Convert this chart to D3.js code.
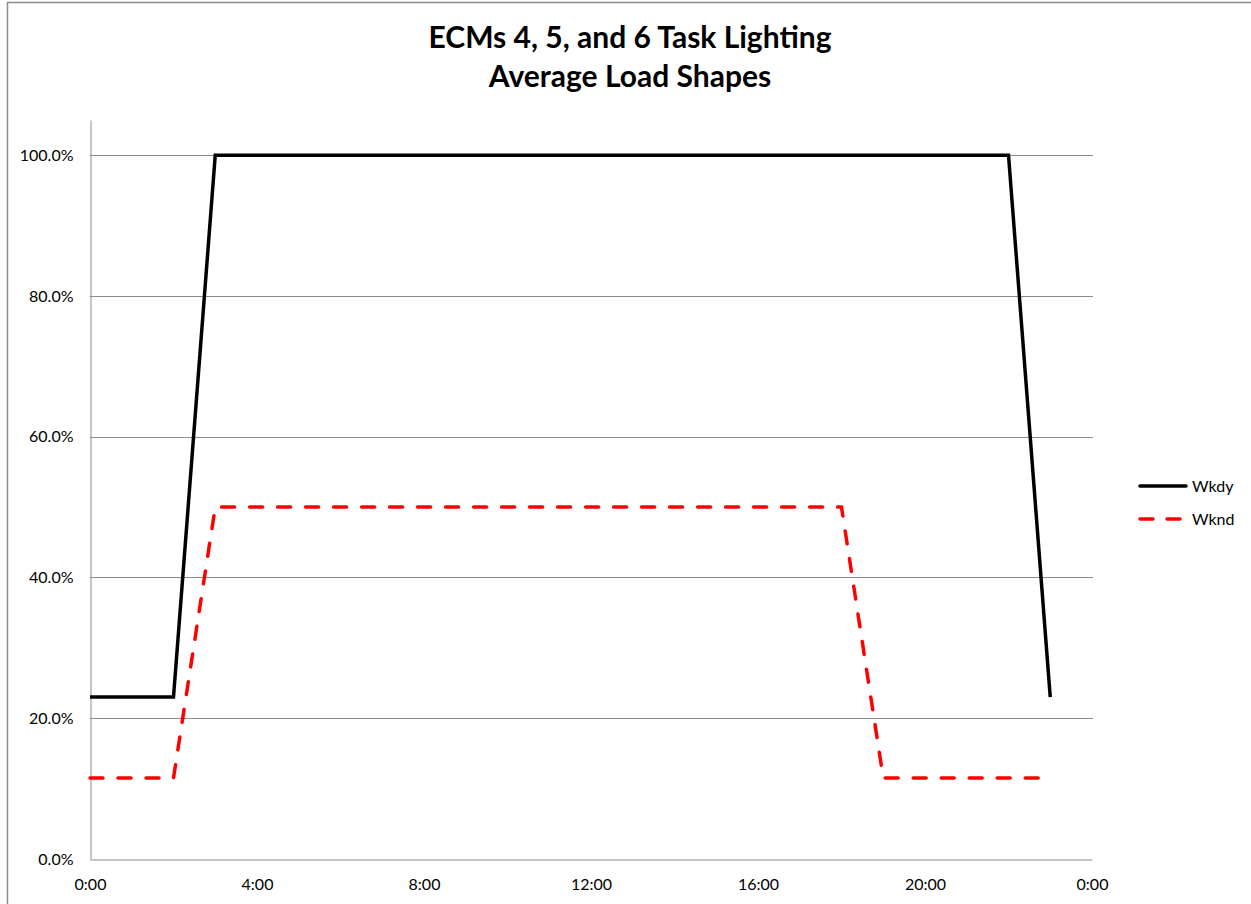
<!DOCTYPE html>
<html>
<head>
<meta charset="utf-8">
<script src="https://cdn.jsdelivr.net/npm/d3@7"></script>
<style>
  html, body { margin: 0; padding: 0; background: #fff; }
  svg { display: block; font-family: Lato, "Open Sans", sans-serif; }
</style>
</head>
<body>
<svg id="chart" width="1251" height="904"></svg>
<script>
// Hourly average load shapes (fraction of peak)
const hours = [0,1,2,3,4,5,6,7,8,9,10,11,12,13,14,15,16,17,18,19,20,21,22,23];
const wkdy = [0.23,0.23,0.23,1,1,1,1,1,1,1,1,1,1,1,1,1,1,1,1,1,1,1,1,0.23];
const wknd = [0.115,0.115,0.115,0.5,0.5,0.5,0.5,0.5,0.5,0.5,0.5,0.5,0.5,0.5,0.5,0.5,0.5,0.5,0.5,0.115,0.115,0.115,0.115,0.115];
const yTicks = [0, 0.2, 0.4, 0.6, 0.8, 1.0];
const xTicks = [0, 4, 8, 12, 16, 20, 24];
const seriesNames = ["Wkdy", "Wknd"];
const titleLines = ["ECMs 4, 5, and 6 Task Lighting", "Average Load Shapes"];

const svg = d3.select("#chart");

// chart frame
svg.append("rect")
  .attr("x", 7.5).attr("y", 2.5)
  .attr("width", 1300).attr("height", 1000)
  .attr("fill", "none").attr("stroke", "#8c8c8c").attr("stroke-width", 1.5);

const plot = { left: 90, right: 1092, top: 120, bottom: 859 };
const x = d3.scaleLinear().domain([0, 24]).range([plot.left, plot.right]);
const y = d3.scaleLinear().domain([0, 1.05]).range([plot.bottom, plot.top]);

// gridlines
svg.append("g")
  .selectAll("line")
  .data(yTicks.filter(d => d > 0))
  .join("line")
  .attr("x1", plot.left).attr("x2", plot.right + 1)
  .attr("y1", d => Math.round(y(d)) + 0.5).attr("y2", d => Math.round(y(d)) + 0.5)
  .attr("stroke", "#8c8c8c").attr("stroke-width", 1);

// y axis
const yAxis = svg.append("g")
  .attr("transform", `translate(${plot.left + 0.5},0)`)
  .call(d3.axisLeft(y).tickValues(yTicks).tickSize(0).tickPadding(17)
    .tickFormat(d => (d * 100).toFixed(1) + "%"));
yAxis.select(".domain").attr("stroke", "#8c8c8c");
yAxis.selectAll("text").attr("font-size", 16).attr("fill", "#000")
  .attr("font-family", "Lato, 'Open Sans', sans-serif");

// x axis
const xAxis = svg.append("g")
  .attr("transform", `translate(0,${plot.bottom + 0.5})`)
  .call(d3.axisBottom(x).tickValues(xTicks).tickSize(0).tickPadding(19)
    .tickFormat(d => (d % 24) + ":00"));
xAxis.select(".domain").attr("stroke", "#8c8c8c");
xAxis.selectAll("text").attr("font-size", 16).attr("fill", "#000")
  .attr("font-family", "Lato, 'Open Sans', sans-serif");

const line = d3.line().x((d, i) => x(hours[i])).y(d => y(d));

svg.append("path")
  .datum(wkdy)
  .attr("d", line)
  .attr("fill", "none").attr("stroke", "#000")
  .attr("stroke-width", 3.5).attr("stroke-linejoin", "miter");

svg.append("path")
  .datum(wknd)
  .attr("d", line)
  .attr("fill", "none").attr("stroke", "#ff0000")
  .attr("stroke-width", 3.5).attr("stroke-linejoin", "round")
  .attr("stroke-linecap", "round")
  .attr("stroke-dasharray", "13,15");

// title
const title = svg.append("text")
  .attr("text-anchor", "middle")
  .attr("font-size", 30).attr("font-weight", "bold").attr("fill", "#000");
titleLines.forEach((t, i) => {
  title.append("tspan").attr("x", 630).attr("y", 48 + i * 39).text(t);
});

// legend
const legend = svg.append("g");
seriesNames.forEach((name, i) => {
  const ly = 486 + i * 33;
  legend.append("line")
    .attr("x1", 1140).attr("x2", 1186).attr("y1", ly).attr("y2", ly)
    .attr("stroke", i === 0 ? "#000" : "#ff0000")
    .attr("stroke-width", 3.5)
    .attr("stroke-linecap", "round")
    .attr("stroke-dasharray", i === 0 ? null : "13,14");
  legend.append("text")
    .attr("x", 1192).attr("y", ly + 6)
    .attr("font-size", 16).attr("fill", "#000")
    .text(name);
});
</script>
</body>
</html>
